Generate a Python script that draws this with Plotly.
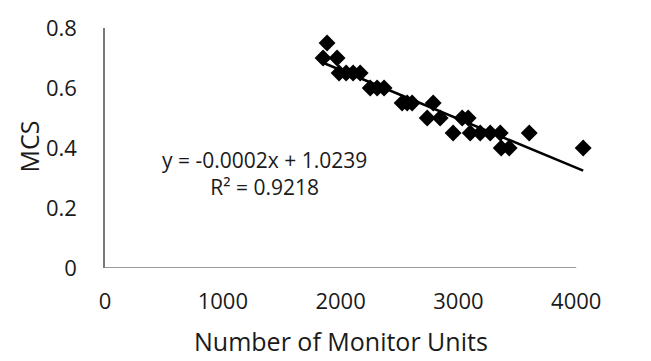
import numpy as np
import plotly.graph_objects as go

# Data
monitor_units = [1885, 1851, 1970, 1987, 2047, 2106, 2166, 2251, 2310, 2369,
                 2522, 2565, 2607, 2786, 2735, 2845, 3032, 3083,
                 2955, 3100, 3185, 3270, 3355, 3601, 3363, 3431, 4059]
mcs = [0.75, 0.70, 0.70, 0.65, 0.65, 0.65, 0.65, 0.60, 0.60, 0.60,
       0.55, 0.55, 0.55, 0.55, 0.50, 0.50, 0.50, 0.50,
       0.45, 0.45, 0.45, 0.45, 0.45, 0.45, 0.40, 0.40, 0.40]
x_ticks = [0, 1000, 2000, 3000, 4000]
y_ticks = [0, 0.2, 0.4, 0.6, 0.8]
equation_text = "y = -0.0002x + 1.0239"
r2_text = "R² = 0.9218"

FONT = "Open Sans"
TXT = "#1a1a1a"

x = np.array(monitor_units, dtype=float)
y = np.array(mcs, dtype=float)
slope, intercept = np.polyfit(x, y, 1)
xl = np.array([x.min(), x.max()])
yl = slope * xl + intercept

fig = go.Figure()
fig.add_trace(go.Scatter(x=xl, y=yl, mode="lines",
                         line=dict(color="black", width=2.5),
                         hoverinfo="skip", showlegend=False))
fig.add_trace(go.Scatter(x=monitor_units, y=mcs, mode="markers",
                         marker=dict(symbol="diamond", size=13, color="black",
                                     line=dict(width=0)),
                         cliponaxis=False, showlegend=False))

# x axis line spanning 0..4000
fig.add_shape(type="line", xref="x", yref="y", x0=x_ticks[0], x1=x_ticks[-1],
              y0=0, y1=0, line=dict(color="#7a7a7a", width=1.5))

fig.add_annotation(text=equation_text + "<br>" + r2_text,
                   xref="paper", yref="paper",
                   x=0.331, y=0.392, xanchor="center", yanchor="middle",
                   align="center", showarrow=False,
                   font=dict(family=FONT, size=21, color=TXT))
fig.add_annotation(text="Number of Monitor Units", xref="paper", yref="paper",
                   x=0.488, y=-0.305, xanchor="center", yanchor="middle",
                   showarrow=False,
                   font=dict(family=FONT, size=25, color=TXT))
fig.add_annotation(text="MCS", xref="paper", yref="paper", textangle=-90,
                   x=-0.158, y=0.505, xanchor="center", yanchor="middle",
                   showarrow=False, font=dict(family=FONT, size=25, color=TXT))

fig.update_layout(
    width=651, height=361,
    margin=dict(l=105, r=63, t=22, b=93),
    paper_bgcolor="white", plot_bgcolor="white",
    font=dict(family=FONT, size=22, color=TXT),
    xaxis=dict(range=[0, 4100], tickvals=x_ticks, ticktext=[str(v) for v in x_ticks],
               showline=False, showgrid=False, zeroline=False, ticks="",
               ticklabelstandoff=18, fixedrange=True),
    yaxis=dict(range=[0, 0.8], tickvals=y_ticks,
               ticktext=["0", "0.2", "0.4", "0.6", "0.8"],
               showline=True, linecolor="#7a7a7a", linewidth=1.5,
               showgrid=False, zeroline=False, ticks="",
               ticklabelstandoff=22, fixedrange=True),
)

fig.write_html("out.html")
